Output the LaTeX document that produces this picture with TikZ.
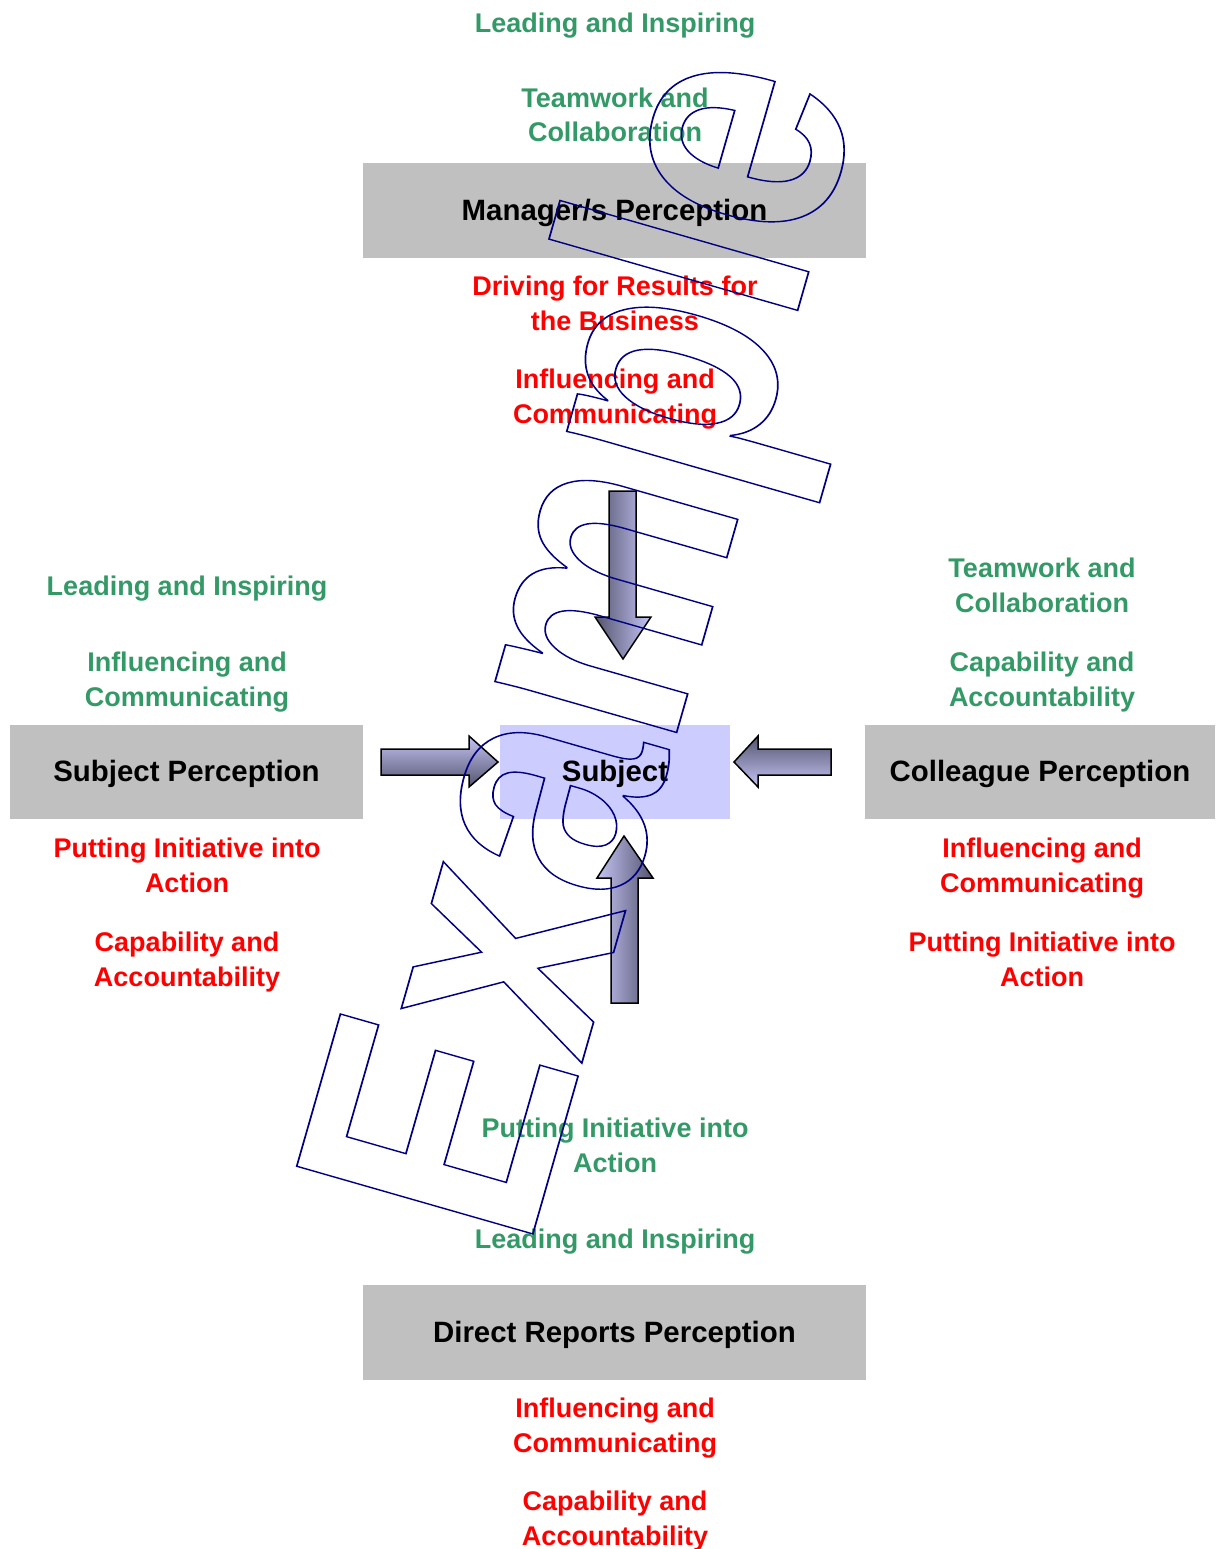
\documentclass[tikz,border=0pt]{standalone}
\usepackage{fontspec}
\setmainfont{Liberation Sans}
\definecolor{tgreen}{RGB}{51,153,102}
\definecolor{tred}{RGB}{255,0,0}
\definecolor{boxgray}{RGB}{192,192,192}
\definecolor{subjfill}{RGB}{204,204,255}
\definecolor{arrdark}{RGB}{84,84,110}
\definecolor{arrlight}{RGB}{196,196,245}
\definecolor{wmnavy}{RGB}{0,0,128}
\newcommand\wmon{\special{pdf:literal direct 1 Tr 1.7 w}}
\newcommand\wmoff{\special{pdf:literal direct 0 Tr}}
\begin{document}
\begin{tikzpicture}[x=1pt,y=-1pt,
  gtxt/.style={text=tgreen, font=\bfseries\fontsize{27}{34.5}\selectfont, align=center, inner sep=0pt, anchor=base},
  rtxt/.style={gtxt, text=tred},
  pbox/.style={fill=boxgray, draw=none, inner sep=0pt, font=\bfseries\fontsize{29.4}{34}\selectfont, text height=20.5pt, text depth=0pt},
  sbox/.style={pbox, fill=subjfill},
  arr/.style={draw=black, line width=1.5pt, line join=miter},
  wm/.style={text=wmnavy, font=\bfseries\fontsize{357}{400}\selectfont, inner sep=0pt, anchor=base west}
]
\useasboundingbox (0,0) rectangle (1215,1549);

% perception boxes
\node[pbox, minimum width=503pt, minimum height=95pt] (mgr) at (614.5,210.5) {Manager/s Perception};
\node[pbox, minimum width=353pt, minimum height=94pt] (sp) at (186.5,771.5) {Subject Perception};
\node[pbox, minimum width=350pt, minimum height=94pt] (cp) at (1040,771.5) {Colleague Perception};
\node[pbox, minimum width=503pt, minimum height=95pt] (dr) at (614.5,1332.5) {Direct Reports Perception};
\node[sbox, minimum width=230pt, minimum height=94pt] (subj) at (615,771.5) {Subject};

% top column (multi-line nodes: y is the baseline of the last line)
\node[gtxt] (t1) at (615,32.3) {Leading and Inspiring};
\node[gtxt] (t2) at (615,142) {Teamwork and\\Collaboration};
\node[rtxt] (t3) at (615,330) {Driving for Results for\\the Business};
\node[rtxt] (t4) at (615,423) {Influencing and\\Communicating};
% left column
\node[gtxt] (l1) at (187,595) {Leading and Inspiring};
\node[gtxt] (l2) at (187,706) {Influencing and\\Communicating};
\node[rtxt] (l3) at (187,892) {Putting Initiative into\\Action};
\node[rtxt] (l4) at (187,986) {Capability and\\Accountability};
% right column
\node[gtxt] (r1) at (1042,612) {Teamwork and\\Collaboration};
\node[gtxt] (r2) at (1042,706) {Capability and\\Accountability};
\node[rtxt] (r3) at (1042,892) {Influencing and\\Communicating};
\node[rtxt] (r4) at (1042,986) {Putting Initiative into\\Action};
% bottom column
\node[gtxt] (b1) at (615,1172) {Putting Initiative into\\Action};
\node[gtxt] (b2) at (615,1248) {Leading and Inspiring};
\node[rtxt] (b3) at (615,1452) {Influencing and\\Communicating};
\node[rtxt] (b4) at (615,1545) {Capability and\\Accountability};

% block arrows
\path[arr, top color=arrlight, bottom color=arrdark]
  (381,749) -- (469,749) -- (469,736) -- (498,762) -- (469,787) -- (469,775) -- (381,775) -- cycle;
\path[arr, top color=arrdark, bottom color=arrlight]
  (831,749) -- (758,749) -- (758,736) -- (734,762) -- (758,787) -- (758,775) -- (831,775) -- cycle;
\path[arr, left color=arrdark, right color=arrlight]
  (609,491) -- (636,491) -- (636,617) -- (651,617) -- (623,659) -- (595,617) -- (609,617) -- cycle;
\path[arr, left color=arrlight, right color=arrdark]
  (611,1003) -- (638,1003) -- (638,878) -- (653,878) -- (624,836) -- (597,878) -- (611,878) -- cycle;

% watermark
\node[wm, rotate=74, xscale=0.82] (wmark) at (527.4,1252.9) {\wmon Example\wmoff};
\end{tikzpicture}
\end{document}
